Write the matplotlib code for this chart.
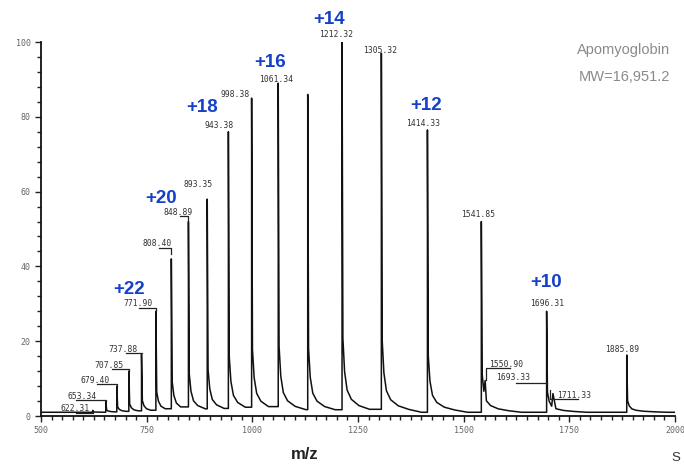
import matplotlib
matplotlib.use("Agg")
import matplotlib.pyplot as plt
from matplotlib.ticker import MultipleLocator

# main peaks of the apomyoglobin ESI spectrum: m/z and relative intensity (%)
peak_mz = [622.31, 653.34, 679.40, 707.85, 737.88, 771.90, 808.40, 848.89,
           893.35, 943.38, 998.38, 1061.34, 1131.10, 1212.32, 1305.32,
           1414.33, 1541.85, 1696.31, 1885.89]
peak_int = [1.5, 4, 8, 12, 16.5, 28, 42, 52,
            58, 76, 85, 89, 86, 100, 97,
            76.5, 52, 28, 16.3]
# shoulders sitting on the tails of 1541.85 and 1696.31
shoulder_mz = [1550.90, 1711.33]
shoulder_int = [9.5, 6.0]
baseline = 1.0

# peak tail shape (m/z after apex, fraction of apex)
tail_dmz = [0, 2, 6, 12, 22, 40, 65, 95]
tail_frac = [1.0, 0.2, 0.11, 0.06, 0.035, 0.018, 0.008, 0.0]

# centroid labels printed on the spectrum
label_text = ["622.31", "653.34", "679.40", "707.85", "737.88", "771.90",
              "808.40", "848.89", "893.35", "943.38", "998.38", "1061.34",
              "1212.32", "1305.32", "1414.33", "1541.85", "1550.90",
              "1693.33", "1696.31", "1711.33", "1885.89"]

# charge states
charges = ["+22", "+20", "+18", "+16", "+14", "+12", "+10"]

title_lines = ["Apomyoglobin", "MW=16,951.2"]

# ---- layout (positions in data coordinates) ----
label_pos = [(580, 1.9), (598, 5.3), (629, 9.6), (661, 13.6), (694, 17.9),
             (730, 30.2), (775, 46.0), (825, 54.3), (872, 62.0), (922, 77.8),
             (960, 86.1), (1057, 90.1), (1199, 101.9), (1303, 97.7),
             (1403, 78.1), (1534, 54.0), (1601, 13.9), (1616, 10.2),
             (1698, 30.2), (1761, 5.6), (1876, 17.9)]
leaders = [
    [(583, 0.8), (622.31, 0.8)],
    [(583, 4.3), (653.34, 4.3), (653.34, 4.0)],
    [(633, 8.6), (679.40, 8.6), (679.40, 8.0)],
    [(668, 12.6), (707.85, 12.6), (707.85, 12.0)],
    [(701, 16.8), (737.88, 16.8)],
    [(732, 28.9), (771.90, 28.9), (771.90, 28.0)],
    [(780, 44.9), (808.40, 44.9), (808.40, 43.4)],
    [(830, 53.5), (848.89, 53.5), (848.89, 52.5)],
    [(1609, 12.8), (1552, 12.8), (1552, 9.5)],
    [(1624, 8.8), (1696.31, 8.8)],
    [(1771, 4.5), (1705, 4.5), (1705, 7.0)],
]
charge_pos = [(708, 33.7), (784, 58.2), (881, 82.6), (1042, 94.4),
              (1182, 106.1), (1410, 82.9), (1695, 35.8)]

fig = plt.figure(figsize=(6.84, 4.68), dpi=100)
ax = fig.add_axes([0.0599, 0.1111, 0.9269, 0.7991])

# one continuous trace: each peak rises from wherever the previous tail is
xs, ys = [500], [baseline]
for i, (mz, h) in enumerate(zip(peak_mz, peak_int)):
    nxt = peak_mz[i + 1] if i + 1 < len(peak_mz) else 2000
    xs.append(mz)
    ys.append(ys[-1])
    pts = [(mz + d, baseline + (h - baseline) * f)
           for d, f in zip(tail_dmz, tail_frac) if mz + d < nxt - 0.5]
    pts += [(s, sh) for s, sh in zip(shoulder_mz, shoulder_int) if mz < s < nxt]
    for x, y in sorted(pts):
        xs.append(x)
        ys.append(y)
xs.append(2000)
ys.append(baseline)
ax.plot(xs, ys, color="#111111", lw=1.1)

for txt, (x, y) in zip(label_text, label_pos):
    ax.text(x, y, txt, ha="center", va="center", fontsize=5.8,
            family="DejaVu Sans Mono", color="#333333")
for seg in leaders:
    ax.plot([p[0] for p in seg], [p[1] for p in seg], color="#222222", lw=0.9)

for txt, (x, y) in zip(charges, charge_pos):
    ax.text(x, y, txt, ha="center", va="center", fontsize=13.5,
            fontweight="bold", family="Liberation Sans", color="#1540c8",
            clip_on=False)

ax.set_xlim(500, 2000)
ax.set_ylim(0, 100)
ax.xaxis.set_major_locator(MultipleLocator(250))
ax.xaxis.set_minor_locator(MultipleLocator(25))
ax.yaxis.set_major_locator(MultipleLocator(20))
ax.yaxis.set_minor_locator(MultipleLocator(4))
ax.tick_params(which="both", direction="out", color="#222222", width=1.0)
ax.tick_params(which="major", length=4.5, labelsize=6, labelcolor="#666666",
               pad=3)
ax.tick_params(which="minor", length=3)
for lab in ax.get_xticklabels() + ax.get_yticklabels():
    lab.set_family("DejaVu Sans Mono")
for side in ["top", "right"]:
    ax.spines[side].set_visible(False)
for side in ["left", "bottom"]:
    ax.spines[side].set_linewidth(1.3)
    ax.spines[side].set_color("#111111")

fig.text(0.980, 0.893, title_lines[0], ha="right", va="center", fontsize=10.5,
         family="Liberation Sans", color="#8a8a8a")
fig.text(0.980, 0.836, title_lines[1], ha="right", va="center", fontsize=10.5,
         family="Liberation Sans", color="#8a8a8a")
fig.text(0.446, 0.028, "m/z", ha="center", va="center", fontsize=12,
         fontweight="bold", family="Liberation Sans", color="#222222")
fig.text(0.988, 0.022, "S", ha="center", va="center", fontsize=9.5,
         family="Liberation Sans", color="#333333")

fig.savefig("out.png", dpi=100)
